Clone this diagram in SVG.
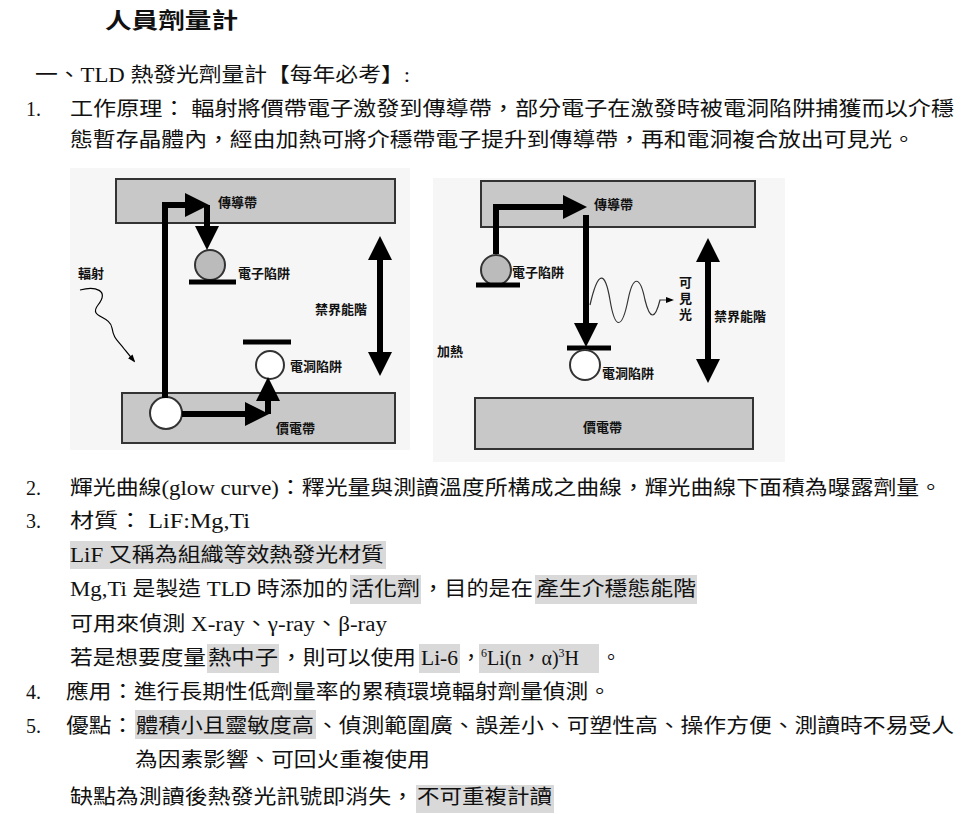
<svg xmlns="http://www.w3.org/2000/svg" width="961" height="814" viewBox="0 0 961 814">
<style>
.t{font-family:"Liberation Serif","Noto Sans CJK TC",serif;font-size:20px;fill:#111}
.h{font-family:"Liberation Serif","Noto Sans CJK TC",serif;font-size:22px;font-weight:bold;fill:#111}
.l{font-family:"Noto Sans CJK TC",sans-serif;font-size:13px;font-weight:bold;fill:#111}
.band{fill:#c8c8c8;stroke:#333;stroke-width:2}
.hl{fill:#d9d9d9}
.ar{stroke:#000;stroke-width:6;fill:none}
.bar{stroke:#000;stroke-width:5}
</style>
<defs>
<marker id="ah" markerWidth="4" markerHeight="4" refX="2" refY="2" orient="auto-start-reverse" markerUnits="strokeWidth"><path d="M0,0 L4,2 L0,4 z" fill="#000"/></marker>
<marker id="sa" markerWidth="8" markerHeight="8" refX="6" refY="4" orient="auto" markerUnits="userSpaceOnUse"><path d="M0,1 L8,4 L0,7 z" fill="#000"/></marker>
</defs>
<rect width="961" height="814" fill="#fff"/>
<g id="highlights">
<rect class="hl" x="70" y="541" width="316" height="28"/>
<rect class="hl" x="350" y="575" width="71" height="29"/>
<rect class="hl" x="535" y="575" width="162" height="29"/>
<rect class="hl" x="207" y="644" width="72" height="29"/>
<rect class="hl" x="419" y="644" width="41" height="29"/>
<rect class="hl" x="479" y="644" width="120" height="29"/>
<rect class="hl" x="135" y="710" width="181" height="29"/>
<rect class="hl" x="416" y="785" width="138" height="28"/>
</g>
<g id="text">
<text class="h" x="105" y="28" textLength="133" lengthAdjust="spacingAndGlyphs">人員劑量計</text>
<text class="t" x="35" y="82" textLength="375" lengthAdjust="spacingAndGlyphs">一、TLD 熱發光劑量計【每年必考】:</text>
<text class="t" x="26" y="116">1.</text>
<text class="t" x="70" y="116" textLength="884" lengthAdjust="spacingAndGlyphs">工作原理：  輻射將價帶電子激發到傳導帶，部分電子在激發時被電洞陷阱捕獲而以介穩</text>
<text class="t" x="70" y="147" textLength="845" lengthAdjust="spacingAndGlyphs">態暫存晶體內，經由加熱可將介穩帶電子提升到傳導帶，再和電洞複合放出可見光。</text>
<text class="t" x="26" y="495">2.</text>
<text class="t" x="70" y="495" textLength="872" lengthAdjust="spacingAndGlyphs">輝光曲線(glow curve)：釋光量與測讀溫度所構成之曲線，輝光曲線下面積為曝露劑量。</text>
<text class="t" x="26" y="528">3.</text>
<text class="t" x="70" y="528" textLength="180" lengthAdjust="spacingAndGlyphs">材質：  LiF:Mg,Ti</text>
<text class="t" x="70" y="562" textLength="314" lengthAdjust="spacingAndGlyphs">LiF 又稱為組織等效熱發光材質</text>
<text class="t" x="70" y="596" textLength="278" lengthAdjust="spacingAndGlyphs">Mg,Ti 是製造 TLD 時添加的</text>
<text class="t" x="351" y="596" textLength="69" lengthAdjust="spacingAndGlyphs">活化劑</text>
<text class="t" x="422" y="596" textLength="111" lengthAdjust="spacingAndGlyphs">，目的是在</text>
<text class="t" x="536" y="596" textLength="160" lengthAdjust="spacingAndGlyphs">產生介穩態能階</text>
<text class="t" x="70" y="631" textLength="317" lengthAdjust="spacingAndGlyphs">可用來偵測 X-ray、γ-ray、β-ray</text>
<text class="t" x="70" y="665" textLength="136" lengthAdjust="spacingAndGlyphs">若是想要度量</text>
<text class="t" x="208" y="665" textLength="70" lengthAdjust="spacingAndGlyphs">熱中子</text>
<text class="t" x="280" y="665" textLength="136" lengthAdjust="spacingAndGlyphs">，則可以使用</text>
<text class="t" x="421" y="665" textLength="37" lengthAdjust="spacingAndGlyphs">Li-6</text>
<text class="t" x="461" y="665">，</text>
<text class="t" x="481" y="665"><tspan font-size="12" dy="-8">6</tspan><tspan dy="8">Li(n，α)</tspan><tspan font-size="12" dy="-8">3</tspan><tspan dy="8">H</tspan></text>
<text class="t" x="601" y="665">。</text>
<text class="t" x="26" y="699">4.</text>
<text class="t" x="66" y="699" textLength="545" lengthAdjust="spacingAndGlyphs">應用：進行長期性低劑量率的累積環境輻射劑量偵測。</text>
<text class="t" x="26" y="733">5.</text>
<text class="t" x="66" y="733" textLength="68" lengthAdjust="spacingAndGlyphs">優點：</text>
<text class="t" x="136" y="733" textLength="178" lengthAdjust="spacingAndGlyphs">體積小且靈敏度高</text>
<text class="t" x="316" y="733" textLength="638" lengthAdjust="spacingAndGlyphs">、偵測範圍廣、誤差小、可塑性高、操作方便、測讀時不易受人</text>
<text class="t" x="135" y="767" textLength="295" lengthAdjust="spacingAndGlyphs">為因素影響、可回火重複使用</text>
<text class="t" x="70" y="804" textLength="344" lengthAdjust="spacingAndGlyphs">缺點為測讀後熱發光訊號即消失，</text>
<text class="t" x="417" y="804" textLength="135" lengthAdjust="spacingAndGlyphs">不可重複計讀</text>
</g>
<g id="diagram1">
<rect x="70" y="168" width="340" height="282" fill="#f6f6f6"/>
<rect class="band" x="116" y="179" width="279" height="44"/>
<rect class="band" x="122" y="393" width="273" height="50"/>
<circle cx="210" cy="265" r="15" fill="#bbb" stroke="#333" stroke-width="2"/>
<line class="bar" x1="189" y1="282" x2="236" y2="282"/>
<line class="bar" x1="243" y1="342" x2="291" y2="342"/>
<circle cx="270" cy="365" r="14" fill="#fff" stroke="#333" stroke-width="2"/>
<circle cx="166" cy="413" r="16" fill="#fff" stroke="#333" stroke-width="2"/>
<text class="l" x="218" y="207">傳導帶</text>
<text class="l" x="238" y="278">電子陷阱</text>
<text class="l" x="315" y="314">禁界能階</text>
<text class="l" x="290" y="371">電洞陷阱</text>
<text class="l" x="276" y="433">價電帶</text>
<text class="l" x="78" y="278">輻射</text>
</g>
<g id="diagram2">
<rect x="433" y="178" width="352" height="284" fill="#f6f6f6"/>
<rect class="band" x="481" y="181" width="274" height="46"/>
<rect class="band" x="475" y="398" width="278" height="51"/>
<circle cx="496" cy="270" r="15" fill="#bbb" stroke="#333" stroke-width="2"/>
<line class="bar" x1="476" y1="285" x2="520" y2="285"/>
<line class="bar" x1="567" y1="348" x2="611" y2="348"/>
<circle cx="585" cy="365" r="15" fill="#fff" stroke="#333" stroke-width="2"/>
<text class="l" x="594" y="209">傳導帶</text>
<text class="l" x="512" y="277">電子陷阱</text>
<text class="l" x="602" y="378">電洞陷阱</text>
<text class="l" x="437" y="356">加熱</text>
<text class="l" x="583" y="432">價電帶</text>
<text class="l" x="679" y="287" font-size="11">可</text>
<text class="l" x="679" y="303" font-size="11">見</text>
<text class="l" x="679" y="319" font-size="11">光</text>
<text class="l" x="714" y="321">禁界能階</text>
</g>
<g id="connectors">
<path class="ar" d="M165,398 V205 H197" marker-end="url(#ah)"/>
<path class="ar" d="M207,205 V238" marker-end="url(#ah)"/>
<path class="ar" d="M182,414 H257" marker-end="url(#ah)"/>
<path class="ar" d="M268,414 V389" marker-end="url(#ah)"/>
<path class="ar" d="M380,248 V364" marker-start="url(#ah)" marker-end="url(#ah)"/>
<path d="M80,290 C95,286 110,290 98,305 C88,318 110,315 112,328 C114,340 118,340 125,350 L134,361" stroke="#000" stroke-width="1.2" fill="none" marker-end="url(#sa)"/>
<path class="ar" d="M496,254 V207 H575" marker-end="url(#ah)"/>
<path class="ar" d="M586,215 V335" marker-end="url(#ah)"/>
<path class="ar" d="M708,250 V371" marker-start="url(#ah)" marker-end="url(#ah)"/>
<path d="M590,305 C598,270 605,270 610,300 C615,330 622,330 628,300 C633,275 640,275 645,300 C650,320 655,320 660,300 L664,300 H672" stroke="#333" stroke-width="1.2" fill="none" marker-end="url(#sa)"/>
</g>
</svg>
